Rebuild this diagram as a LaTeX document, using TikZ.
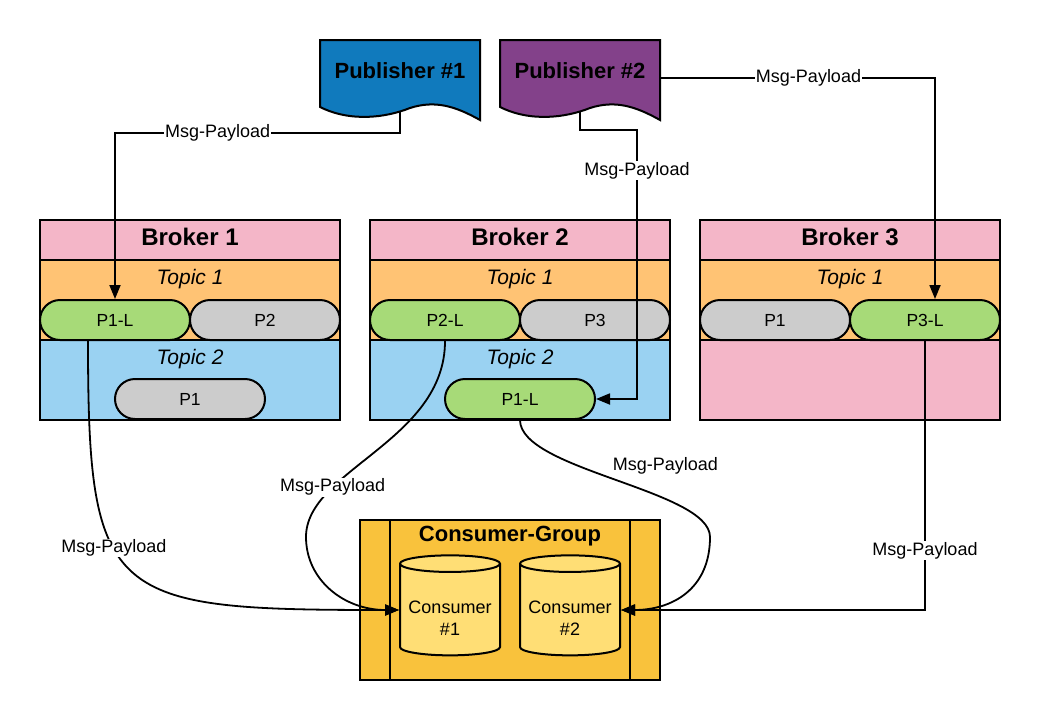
\documentclass[tikz,border=0pt]{standalone}
\usepackage{fontspec}
\setmainfont{Liberation Sans}
\usepackage{xcolor}
\usetikzlibrary{arrows.meta,positioning,shapes.misc,shapes.geometric}

\definecolor{brokerpink}{HTML}{F4B6C8}
\definecolor{topicorange}{HTML}{FFC374}
\definecolor{topicblue}{HTML}{9AD2F2}
\definecolor{leadgreen}{HTML}{A7DA78}
\definecolor{replgray}{HTML}{CCCCCC}
\definecolor{pubblue}{HTML}{107ABD}
\definecolor{pubpurple}{HTML}{83418A}
\definecolor{groupyellow}{HTML}{F9C23C}
\definecolor{consyellow}{HTML}{FFDE75}

\begin{document}
\begin{tikzpicture}[
  x=1pt, y=-1pt,
  head/.style={rectangle, draw, line width=2pt, fill=brokerpink, minimum width=300pt,
               minimum height=40pt, outer sep=0pt, inner sep=0pt, text depth=6pt,
               font=\fontsize{24}{28}\selectfont\bfseries},
  band/.style={rectangle, draw, line width=2pt, minimum width=300pt,
               minimum height=80pt, outer sep=0pt},
  topictxt/.style={font=\fontsize{21}{24}\selectfont\itshape},
  part/.style={rounded rectangle, draw, line width=2pt, fill=replgray, minimum width=150pt,
               minimum height=40pt, inner sep=0pt, font=\fontsize{17.5}{20}\selectfont},
  leader/.style={part, fill=leadgreen},
  pubtxt/.style={font=\fontsize{22}{26}\selectfont\bfseries},
  pubshape/.style={draw, line width=2pt},
  consumer/.style={cylinder, shape border rotate=90, aspect=0.2, draw, line width=2pt,
                   fill=consyellow, minimum width=100pt, minimum height=100pt,
                   inner sep=0pt, align=center, font=\fontsize{18}{22}\selectfont},
  arr/.style={-{Triangle[length=14pt,width=11pt]}, line width=1.8pt},
  lbl/.style={fill=white, inner sep=1pt, font=\fontsize{18}{20}\selectfont},
]
\useasboundingbox (0,0) rectangle (1040,720);

% Publishers (top)
\draw[pubshape, fill=pubblue] (320,40) -- (480,40) -- (480,120)
  .. controls (455,106) and (435,100) .. (410,108)
  .. controls (385,118) and (350,122) .. (320,107) -- cycle;
\node[pubtxt] (pub1) at (400,71) {Publisher \#1};
\coordinate (pub1out) at (400,111);

\draw[pubshape, fill=pubpurple] (500,40) -- (660,40) -- (660,120)
  .. controls (635,106) and (615,100) .. (590,108)
  .. controls (565,118) and (530,122) .. (500,107) -- cycle;
\node[pubtxt] (pub2) at (580,71) {Publisher \#2};
\coordinate (pub2out) at (580,111);
\coordinate (pub2side) at (660,78);

% Broker 1
\node[head] (b1head) at (190,240) {Broker 1};
\node[band, fill=topicorange, below=0pt of b1head] (b1t1) {};
\node[band, fill=topicblue, below=0pt of b1t1] (b1t2) {};
\node[topictxt] (b1t1txt) at ([yshift=-19pt]b1t1.north) {Topic 1};
\node[topictxt] (b1t2txt) at ([yshift=-19pt]b1t2.north) {Topic 2};
\node[leader] (b1p1l) at (115,320) {P1-L};
\node[part] (b1p2) at (265,320) {P2};
\node[part] (b1p1) at (190,399) {P1};

% Broker 2
\node[head] (b2head) at (520,240) {Broker 2};
\node[band, fill=topicorange, below=0pt of b2head] (b2t1) {};
\node[band, fill=topicblue, below=0pt of b2t1] (b2t2) {};
\node[topictxt] (b2t1txt) at ([yshift=-19pt]b2t1.north) {Topic 1};
\node[topictxt] (b2t2txt) at ([yshift=-19pt]b2t2.north) {Topic 2};
\node[leader] (b2p2l) at (445,320) {P2-L};
\node[part] (b2p3) at (595,320) {P3};
\node[leader] (b2p1l) at (520,399) {P1-L};

% Broker 3
\node[head] (b3head) at (850,240) {Broker 3};
\node[band, fill=topicorange, below=0pt of b3head] (b3t1) {};
\node[band, fill=brokerpink, below=0pt of b3t1] (b3t2) {};
\node[topictxt] (b3t1txt) at ([yshift=-19pt]b3t1.north) {Topic 1};
\node[part] (b3p1) at (775,320) {P1};
\node[leader] (b3p3l) at (925,320) {P3-L};

% Consumer group (bottom)
\node[rectangle, draw, line width=2pt, fill=groupyellow, minimum width=300pt,
      minimum height=160pt, outer sep=0pt] (cg) at (510,600) {};
\draw[line width=2pt] ([xshift=30pt]cg.north west) -- ([xshift=30pt]cg.south west);
\draw[line width=2pt] ([xshift=-30pt]cg.north east) -- ([xshift=-30pt]cg.south east);
\node[pubtxt] (cgtxt) at (510,536) {Consumer-Group};
\node[consumer] (c1) at (450,610) {\rule{0pt}{29pt}Consumer\\\#1};
\node[consumer] (c2) at (570,610) {\rule{0pt}{29pt}Consumer\\\#2};

% Arrows: publishers -> leaders
\draw[arr] (pub1out) -- ++(0,22) -| node[lbl, pos=0.32] {Msg-Payload} (b1p1l.north);
\draw[arr] (pub2out) -- ++(0,19) -| node[lbl, pos=0.575] {Msg-Payload}
  ([xshift=41pt]b2p1l.east) -- (b2p1l.east);
\draw[arr] (pub2side) -| node[lbl, pos=0.27] {Msg-Payload} ([xshift=10pt]b3p3l.north);

% Arrows: leaders -> consumers
\coordinate (c1bend) at (306,537);
\coordinate (c2bend) at (710,537);
\draw[arr] ([xshift=-27pt]b1p1l.south) .. controls +(0,260) and +(-290,0) ..
  node[lbl, pos=0.4] {Msg-Payload} (c1.west);
\draw[arr] (b2p2l.south) .. controls +(0,100) and +(0,-67) ..
  node[lbl, pos=0.72] {Msg-Payload} (c1bend) .. controls +(0,43) and +(-55,0) .. (c1.west);
\draw[arr] (b2p1l.south) .. controls +(0,50) and +(0,-47) ..
  node[lbl, fill=none, pos=0.65, xshift=9pt, yshift=29pt] {Msg-Payload}
  (c2bend) .. controls +(0,53) and +(50,0) .. (c2.east);
\draw[arr] (b3p3l.south) |- node[lbl, pos=0.39] {Msg-Payload} (c2.east);

\end{tikzpicture}
\end{document}
